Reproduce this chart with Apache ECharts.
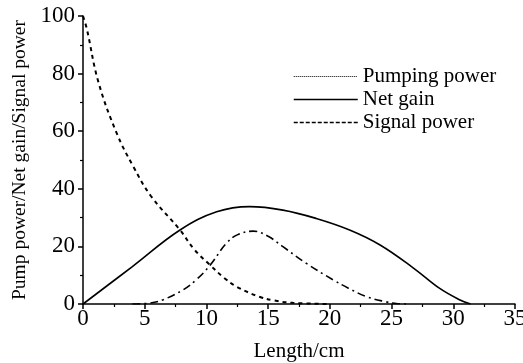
<!DOCTYPE html>
<html><head><meta charset="utf-8">
<script src="https://cdn.jsdelivr.net/npm/echarts@6/dist/echarts.min.js"></script>
<style>html,body{margin:0;padding:0;background:#fff}#c{width:523px;height:363px}</style>
</head><body><div id="c"></div>
<script>
var seriesNames = ['Pumping power', 'Net gain', 'Signal power'];
var pumpingPower = [[0,100],[0.3,95.7],[1.24,77.2],[2.73,59.3],[4.08,47.7],[5.5,37.5],[7.86,25.7],[9,19],[10.3,13.5],[11.4,9.2],[12.45,6],[14.3,2.5],[15.5,1.2],[17,0.4],[20,0]];
var netGain = [[0,0],[4,13],[7.86,25.7],[10.83,32],[13.5,33.8],[16.2,32.6],[18.9,29.7],[21.6,25.7],[24.07,20.5],[26.8,12.4],[28.9,5.4],[30.5,1.5],[31.4,0]];
var signalPower = [[4,0],[5.4,0.3],[6.5,1.5],[8.1,4.9],[9.2,8.5],[10.3,13.5],[11.6,21],[12.5,24],[13.8,25.3],[15,23.5],[16.2,19.9],[18.1,14.1],[20.3,8.3],[21.5,5.5],[23,2.5],[24.5,0.8],[25.5,0.1],[26.5,0]];
var xTicks = {min:0, max:35, interval:5};
var yTicks = {min:0, max:100, interval:20};

var font = 'Liberation Serif';
var chart = echarts.init(document.getElementById('c'));
chart.setOption({
  animation:false,
  backgroundColor:'#fff',
  grid:{left:83, right:8, top:16, bottom:59, containLabel:false, outerBoundsMode:'none'},
  legend:{
    left:288, top:61, orient:'vertical', itemWidth:64, itemHeight:12, itemGap:2,
    itemStyle:{opacity:0, borderWidth:0},
    textStyle:{fontFamily:font, fontSize:21, color:'#000', padding:[0,0,0,0]},
    data:[
      {name:seriesNames[0], itemStyle:{opacity:0}, lineStyle:{type:[1,1], width:1, color:'#000'}},
      {name:seriesNames[1], itemStyle:{opacity:0}, lineStyle:{type:'solid', width:1.5, color:'#000'}},
      {name:seriesNames[2], itemStyle:{opacity:0}, lineStyle:{type:[4,2], width:1.5, color:'#000'}}
    ]
  },
  xAxis:{
    type:'value', min:xTicks.min, max:xTicks.max, interval:xTicks.interval,
    name:'Length/cm', nameLocation:'middle', nameGap:37,
    nameTextStyle:{fontFamily:font, fontSize:21, color:'#000'},
    axisLine:{lineStyle:{color:'#000', width:1.5}},
    axisTick:{show:true, length:5, lineStyle:{color:'#000', width:1.5}},
    minorTick:{show:true, splitNumber:2, length:3, lineStyle:{color:'#000', width:1.2}},
    axisLabel:{fontFamily:font, fontSize:23, color:'#000', margin:3},
    splitLine:{show:false}
  },
  yAxis:{
    type:'value', min:yTicks.min, max:yTicks.max, interval:yTicks.interval,
    name:'Pump power/Net gain/Signal power', nameLocation:'middle', nameGap:46,
    nameTextStyle:{fontFamily:font, fontSize:19.5, color:'#000'},
    axisLine:{show:true, lineStyle:{color:'#000', width:1.5}},
    axisTick:{show:true, length:5, lineStyle:{color:'#000', width:1.5}},
    minorTick:{show:true, splitNumber:2, length:3, lineStyle:{color:'#000', width:1.2}},
    axisLabel:{fontFamily:font, fontSize:23, color:'#000', margin:8},
    splitLine:{show:false}
  },
  series:[
    {name:seriesNames[0], type:'line', smooth:0.4, symbol:'none', data:pumpingPower,
     lineStyle:{color:'#000', width:2, type:[4,4]}, itemStyle:{color:'#000'}},
    {name:seriesNames[1], type:'line', smooth:0.4, symbol:'none', data:netGain,
     lineStyle:{color:'#000', width:1.6, type:'solid'}, itemStyle:{color:'#000'}},
    {name:seriesNames[2], type:'line', smooth:0.4, symbol:'none', data:signalPower,
     lineStyle:{color:'#000', width:1.6, type:[8,4,2,4]}, itemStyle:{color:'#000'}}
  ]
});
</script></body></html>
